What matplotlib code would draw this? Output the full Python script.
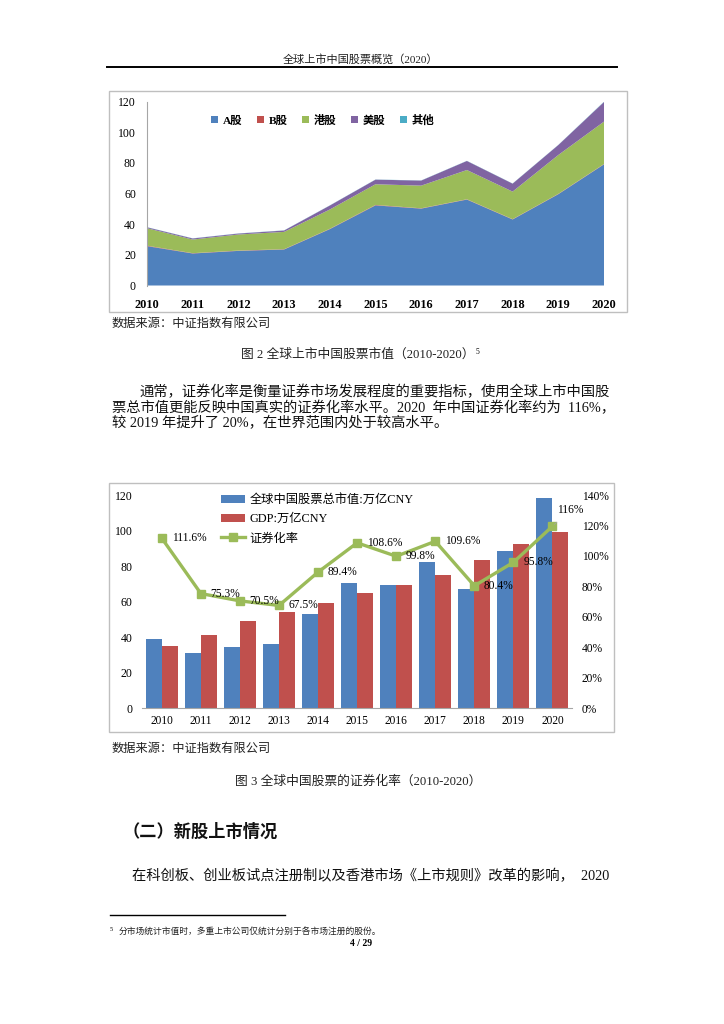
import matplotlib
matplotlib.use('Agg')
import matplotlib.pyplot as plt
from matplotlib.patches import Rectangle, Patch
from matplotlib.lines import Line2D
from matplotlib.font_manager import FontProperties
import numpy as np

# ---------------- data ----------------
years = ['2010', '2011', '2012', '2013', '2014', '2015', '2016', '2017', '2018', '2019', '2020']

# Figure 2: market value by market (万亿CNY), stacked
a_share = [25.7, 20.9, 22.6, 23.5, 36.8, 52.3, 50.2, 56.1, 43.1, 59.6, 79.1]
b_share = [0.3, 0.2, 0.2, 0.2, 0.2, 0.3, 0.2, 0.2, 0.2, 0.2, 0.2]
hk_share = [11.4, 8.9, 10.5, 11.3, 12.6, 13.5, 14.8, 19.1, 18.0, 25.4, 27.7]
us_share = [0.6, 0.7, 0.6, 0.9, 2.6, 3.0, 3.3, 5.9, 5.2, 6.5, 12.8]
other_share = [0.1, 0.1, 0.1, 0.1, 0.1, 0.1, 0.1, 0.1, 0.1, 0.1, 0.2]
stack_labels = ['A股', 'B股', '港股', '美股', '其他']
stack_colors = ['#4F81BD', '#C0504D', '#9BBB59', '#8064A2', '#4BACC6']

# Figure 3: securitization ratio
mkt_cap = [39.0, 31.1, 34.5, 36.4, 53.1, 70.3, 69.2, 82.1, 67.1, 88.5, 118.3]
gdp = [35.1, 41.4, 48.9, 54.0, 59.4, 64.7, 69.2, 75.0, 83.4, 92.4, 99.0]
ratio = [111.6, 75.3, 70.5, 67.5, 89.4, 108.6, 99.8, 109.6, 80.4, 95.8, 119.5]
ratio_labels = ['111.6%', '75.3%', '70.5%', '67.5%', '89.4%', '108.6%', '99.8%',
                '109.6%', '80.4%', '95.8%', '116%']
series_labels = ['全球中国股票总市值:万亿CNY', 'GDP:万亿CNY', '证券化率']

left_ticks = [0, 20, 40, 60, 80, 100, 120]
right_ticks = [0, 20, 40, 60, 80, 100, 120, 140]

# ---------------- layout helpers ----------------
W, H = 724, 1024
DPI = 100
fig = plt.figure(figsize=(W / DPI, H / DPI), dpi=DPI)
fig.patch.set_facecolor('white')

SERIF_CJK = ['Liberation Serif', 'Noto Sans CJK SC']
CJK = ['Noto Sans CJK SC', 'DejaVu Sans']
GRID = '#A6A6A6'


def rect(l, t, r, b):
    return [l / W, 1 - b / H, (r - l) / W, (b - t) / H]


def ftext(x, y, s, **kw):
    return fig.text(x / W, 1 - y / H, s, **kw)


def frame(l, t, r, b):
    fig.add_artist(Rectangle((l / W, 1 - b / H), (r - l) / W, (b - t) / H,
                             transform=fig.transFigure, fill=False,
                             edgecolor='#BFBFBF', lw=1.0))


# ---------------- page header ----------------
ftext(360, 59, '全球上市中国股票概览（2020）', family=SERIF_CJK, fontsize=8,
      ha='center', va='center', color='#222222')
fig.add_artist(Line2D([107 / W, 617 / W], [1 - 67.3 / H] * 2, color='black', lw=1.4,
                      transform=fig.transFigure))

# ---------------- chart 1 ----------------
frame(109.3, 90.7, 626.7, 312.3)
ax1 = fig.add_axes(rect(147, 101.7, 604, 285.5))
x = np.arange(len(years))
ax1.stackplot(x, a_share, b_share, hk_share, us_share, other_share,
              colors=stack_colors, labels=stack_labels, lw=0)
ax1.set_xlim(0, len(years) - 1)
ax1.set_ylim(0, 120)
ax1.set_yticks(left_ticks)
ax1.set_yticklabels([str(v) for v in left_ticks], family='Liberation Serif', fontsize=8.5)
ax1.set_xticks(x)
ax1.set_xticklabels(years, family='Liberation Serif', fontsize=8.8, fontweight='bold')
ax1.tick_params(axis='y', length=0, pad=8)
ax1.tick_params(axis='x', length=0, pad=10)
for s in ['top', 'right', 'bottom']:
    ax1.spines[s].set_visible(False)
ax1.spines['left'].set_color(GRID)
handles1 = [Patch(facecolor=c, edgecolor='none') for c in stack_colors]
ax1.legend(handles1, stack_labels, ncol=5, loc='center', bbox_to_anchor=(0.385, 0.90),
           frameon=False, handlelength=0.55, handleheight=0.55, handletextpad=0.45,
           columnspacing=1.3, borderpad=0,
           prop=FontProperties(family=SERIF_CJK, weight='bold', size=8.2))

ftext(112, 323.5, '数据来源：中证指数有限公司', family=CJK, fontsize=8.8, ha='left', va='center',
      color='#222222')
ftext(358, 355, '图 2 全球上市中国股票市值（2010-2020）', family=SERIF_CJK, fontsize=9.2,
      ha='center', va='center', color='#222222')
ftext(476, 351.5, '5', family='Liberation Serif', fontsize=5.5, ha='left', va='center')

# ---------------- body text ----------------
body_fp = dict(family=SERIF_CJK, fontsize=10.3, va='center', ha='left', color='#111111')
ftext(139, 391.7, '通常，证券化率是衡量证券市场发展程度的重要指标，使用全球上市中国股', **body_fp)
ftext(112, 407.5, '票总市值更能反映中国真实的证券化率水平。2020  年中国证券化率约为  116%，', **body_fp)
ftext(112, 423.3, '较 2019 年提升了 20%，在世界范围内处于较高水平。', **body_fp)

# ---------------- chart 2 ----------------
frame(109, 483.3, 614, 731.7)
ax2 = fig.add_axes(rect(142.3, 495, 572, 708.3))
bw = 0.41
b1 = ax2.bar(x - bw / 2, mkt_cap, bw, color='#4F81BD', label=series_labels[0])
b2 = ax2.bar(x + bw / 2, gdp, bw, color='#C0504D', label=series_labels[1])
ax2.set_xlim(-0.5, len(years) - 0.5)
ax2.set_ylim(0, 120)
ax2.set_yticks(left_ticks)
ax2.set_yticklabels([str(v) for v in left_ticks], family='Liberation Serif', fontsize=8.5)
ax2.set_xticks(x)
ax2.set_xticklabels(years, family='Liberation Serif', fontsize=8.3)
ax2.tick_params(axis='y', length=0, pad=7)
ax2.tick_params(axis='x', length=0, pad=5)
for s in ['top', 'right', 'left']:
    ax2.spines[s].set_visible(False)
ax2.spines['bottom'].set_color(GRID)

ax2r = ax2.twinx()
ln, = ax2r.plot(x, ratio, color='#9BBB59', lw=2.4, marker='s', ms=5.5,
                label=series_labels[2])
ax2r.set_ylim(0, 140)
ax2r.set_yticks(right_ticks)
ax2r.set_yticklabels(['%d%%' % v for v in right_ticks], family='Liberation Serif', fontsize=8.3)
ax2r.tick_params(axis='y', length=0, pad=7)
for s in ['top', 'right', 'left', 'bottom']:
    ax2r.spines[s].set_visible(False)

for i, (v, lab) in enumerate(zip(ratio, ratio_labels)):
    if i == len(ratio) - 1:
        ax2r.annotate(lab, (x[i], v), xytext=(13, 12), textcoords='offset points',
                      ha='center', va='center', family='Liberation Serif', fontsize=8.3,
                      arrowprops=dict(arrowstyle='-', color='#A6A6A6', lw=0.6,
                                      shrinkA=4, shrinkB=2))
    else:
        ax2r.annotate(lab, (x[i], v), xytext=(7, 0), textcoords='offset points',
                      ha='left', va='center', family='Liberation Serif', fontsize=8.3)

ax2r.legend([b1, b2, ln], series_labels, loc='center left', bbox_to_anchor=(0.183, 0.886),
            frameon=False, borderpad=0, borderaxespad=0, handlelength=2.0,
            handletextpad=0.35, labelspacing=0.58,
            prop=FontProperties(family=SERIF_CJK, size=8.8))

ftext(112, 748.3, '数据来源：中证指数有限公司', family=CJK, fontsize=8.8, ha='left', va='center',
      color='#222222')
ftext(358, 781.7, '图 3 全球中国股票的证券化率（2010-2020）', family=SERIF_CJK, fontsize=9.2,
      ha='center', va='center', color='#222222')

# ---------------- section ----------------
ftext(123, 831.7, '（二）新股上市情况', family=CJK, fontsize=12.4, fontweight='bold',
      ha='left', va='center', color='#111111')
ftext(132, 875.7, '在科创板、创业板试点注册制以及香港市场《上市规则》改革的影响，  2020', **body_fp)

fig.add_artist(Line2D([110 / W, 285 / W], [1 - 915 / H] * 2, color='black', lw=1.0,
                      transform=fig.transFigure))
ftext(110, 929.5, '5', family='Liberation Serif', fontsize=4.5, ha='left', va='center')
ftext(119, 931.7, '分市场统计市值时，多重上市公司仅统计分别于各市场注册的股份。', family=CJK,
      fontsize=6.3, ha='left', va='center', color='#222222')
ftext(361, 943.3, '4 / 29', family='Liberation Serif', fontsize=7, fontweight='bold',
      ha='center', va='center')

fig.savefig('out.png', dpi=DPI, facecolor='white')
